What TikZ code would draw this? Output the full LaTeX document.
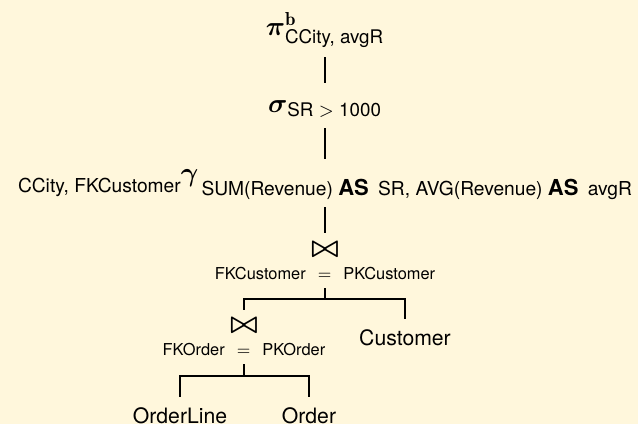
\documentclass[tikz,border=0pt]{standalone}
\usepackage{fix-cm}
\usepackage{amsmath}
\usepackage{amssymb}
\usepackage{fontspec}
\setsansfont{TeX Gyre Heros}
\renewcommand{\familydefault}{\sfdefault}
\usepackage{tikz}
\definecolor{slidebg}{RGB}{255,247,220}
\def\opsize{\fontsize{13.4}{16}\selectfont}
\def\kw#1{{\fontsize{11}{13}\selectfont\bfseries #1}\hspace{2pt}}
\def\eqjoin{\hspace{6pt}$=$\hspace{6pt}}

\begin{document}
\begin{tikzpicture}[x=0.5pt, y=-0.5pt, every node/.style={inner sep=0pt},
		op/.style={font=\opsize},
		joinop/.style={font=\fontsize{14.4}{17}\selectfont},
		cond/.style={font=\fontsize{8.2}{10}\selectfont},
		rel/.style={font=\fontsize{9.6}{11}\selectfont},
		leaf/.style={font=\fontsize{10.6}{13}\selectfont},
		link/.style={thick}]
			\useasboundingbox[fill=slidebg] (0,0) rectangle (638,424);
			
			% operators on the spine
			\node[op, anchor=base] (proj) at (325,35) {$\boldsymbol{\pi}^{\mathbf{b}}_{\text{CCity, avgR}}$};
			\node[op, anchor=base] (sel) at (325,112) {$\boldsymbol{\sigma}_{\text{SR}\;>\;\text{1000}}$};
			\node[rel, anchor=base] (grp) at (325,181) {\raisebox{-5.5pt}{CCity, FKCustomer}{\opsize$\boldsymbol{\gamma}$}\,\raisebox{-7pt}{SUM(Revenue) \kw{AS} SR, AVG(Revenue) \kw{AS} avgR}};
			
			% joins
			\node[joinop, anchor=base] (join1) at (325,256) {$\boldsymbol{\bowtie}$};
			\node[cond, anchor=base] (cond1) at (325,279) {FKCustomer\eqjoin PKCustomer};
			\node[joinop, anchor=base] (join2) at (244,332) {$\boldsymbol{\bowtie}$};
			\node[cond, anchor=base] (cond2) at (244,355) {FKOrder\eqjoin PKOrder};
			
			% relations
			\node[leaf, anchor=base] (cust) at (405,345) {Customer};
			\node[leaf, anchor=base] (oline) at (180,423) {OrderLine};
			\node[leaf, anchor=base] (ord) at (309,423) {Order};
			
			\draw[link, shorten <=11pt, shorten >=14.5pt] (proj.base) -- (sel.base);
			\draw[link, shorten <=8pt, shorten >=11pt] (sel.base) -- (grp.base);
			\draw[link, shorten <=13pt, shorten >=11.5pt] (grp.base) -- (join1.base);
			
			\draw[link, shorten <=4.5pt, shorten >=11pt] (cond1.base) -- ++(0,20) -| (join2.base);
			\draw[link, shorten <=4.5pt, shorten >=13pt] (cond1.base) -- ++(0,20) -| (cust.base);
			\draw[link, shorten <=4.5pt, shorten >=13pt] (cond2.base) -- ++(0,21) -| (oline.base);
			\draw[link, shorten <=4.5pt, shorten >=13pt] (cond2.base) -- ++(0,21) -| (ord.base);
\end{tikzpicture}
\end{document}
